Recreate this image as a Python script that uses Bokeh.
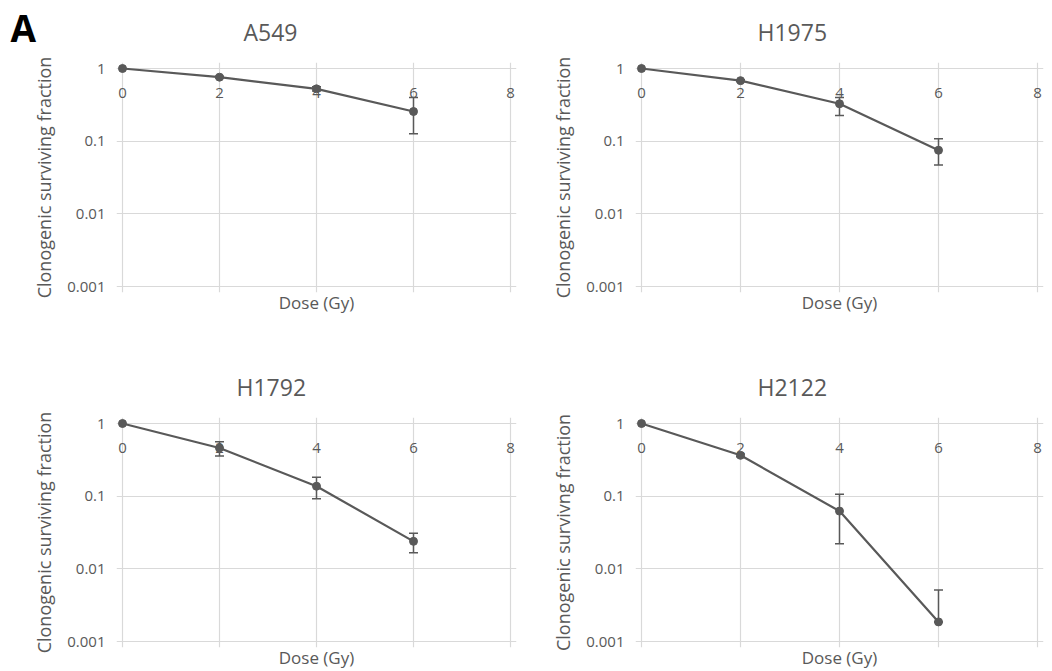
from bokeh.plotting import figure
from bokeh.models import Range1d, FixedTicker, Whisker, ColumnDataSource, TeeHead, Title
from bokeh.layouts import gridplot
from bokeh.embed import file_html
from bokeh.resources import INLINE
from bokeh.core.properties import value

# ---------------- data ----------------
doses = [0, 2, 4, 6]
x_ticks = [0, 2, 4, 6, 8]
y_ticks = [0.001, 0.01, 0.1, 1]
y_tick_labels = ["0.001", "0.01", "0.1", "1"]

panel_titles = ["A549", "H1975", "H1792", "H2122"]
y_axis_labels = ["Clonogenic surviving fraction", "Clonogenic surviving fraction",
                 "Clonogenic surviving fraction", "Clonogenic survivng fraction"]
x_axis_label = "Dose (Gy)"
panel_letter = "A"

a549_sf = [1.0, 0.76, 0.525, 0.256]
a549_upper = [1.0, 0.78, 0.56, 0.40]
a549_lower = [1.0, 0.74, 0.49, 0.126]

h1975_sf = [1.0, 0.68, 0.327, 0.075]
h1975_upper = [1.0, 0.70, 0.40, 0.108]
h1975_lower = [1.0, 0.66, 0.225, 0.047]

h1792_sf = [1.0, 0.46, 0.137, 0.0239]
h1792_upper = [1.0, 0.56, 0.182, 0.031]
h1792_lower = [1.0, 0.357, 0.092, 0.0166]

h2122_sf = [1.0, 0.365, 0.0623, 0.00186]
h2122_upper = [1.0, 0.38, 0.106, 0.0051]
h2122_lower = [1.0, 0.35, 0.0222, 0.00186]

series = [
    (a549_sf, a549_lower, a549_upper),
    (h1975_sf, h1975_lower, h1975_upper),
    (h1792_sf, h1792_lower, h1792_upper),
    (h2122_sf, h2122_lower, h2122_upper),
]

# ---------------- style ----------------
FONT = "Open Sans"
TEXT = "#595959"
GRID = "#d9d9d9"
SERIES = "#595959"
PAD = 6  # px between frame edge and the outer gridlines


def make_panel(i, width, height, left, top, plot_w, plot_h, title_offset):
    sf, lo, up = series[i]
    frame_w = plot_w + 2 * PAD
    frame_h = plot_h + 2 * PAD
    ppu = plot_w / (x_ticks[-1] - x_ticks[0])
    padx = PAD / ppu
    ppd = plot_h / 3.0
    pady = PAD / ppd
    p = figure(
        frame_width=frame_w, frame_height=frame_h,
        x_range=Range1d(x_ticks[0] - padx, x_ticks[-1] + padx),
        y_range=Range1d(y_ticks[0] * 10 ** (-pady), y_ticks[-1] * 10 ** pady),
        y_axis_type="log",
        output_backend="svg", toolbar_location=None,
        min_border_left=left, min_border_top=top,
        min_border_right=width - left - frame_w,
        min_border_bottom=height - top - frame_h,
        background_fill_color="white", border_fill_color="white",
    )
    p.outline_line_color = None

    p.title = Title(text=panel_titles[i], align="left", offset=title_offset,
                    vertical_align="middle",
                    text_font=FONT, text_font_size="23px", text_font_style="normal",
                    text_color=TEXT, standoff=28)

    # grids
    p.xgrid.ticker = FixedTicker(ticks=x_ticks)
    p.ygrid.ticker = FixedTicker(ticks=y_ticks)
    p.grid.grid_line_color = GRID
    p.grid.grid_line_width = 1.2

    # y axis
    ya = p.yaxis[0]
    ya.ticker = FixedTicker(ticks=y_ticks)
    ya.major_label_overrides = dict(zip(y_ticks, y_tick_labels))
    ya.axis_label = y_axis_labels[i]
    ya.axis_label_text_font = FONT
    ya.axis_label_text_font_size = "18px"
    ya.axis_label_text_font_style = "normal"
    ya.axis_label_text_color = TEXT
    ya.axis_label_standoff = 8
    ya.major_label_text_font = FONT
    ya.major_label_text_font_size = "15px"
    ya.major_label_text_color = TEXT
    ya.major_label_standoff = 5
    ya.axis_line_color = None
    ya.major_tick_line_color = None
    ya.minor_tick_line_color = None

    # x axis (below carries only the title)
    xa = p.xaxis[0]
    xa.ticker = FixedTicker(ticks=[])
    xa.axis_label = x_axis_label
    xa.axis_label_text_font = FONT
    xa.axis_label_text_font_size = "17px"
    xa.axis_label_text_font_style = "normal"
    xa.axis_label_text_color = TEXT
    xa.axis_label_standoff = -2
    xa.major_label_standoff = 0
    xa.axis_line_color = None
    xa.major_tick_line_color = None
    xa.minor_tick_line_color = None

    # x tick labels sit just under the top (y = 1) gridline, Excel style
    lab = ColumnDataSource(dict(x=x_ticks, y=[y_ticks[-1]] * len(x_ticks),
                                t=[str(v) for v in x_ticks]))
    p.text(x="x", y="y", text="t", source=lab, y_offset=24,
           text_font=value(FONT), text_font_size="15px", text_color=TEXT,
           text_align="center", text_baseline="middle")

    # error bars (only where there is a spread)
    idx = [k for k in range(len(doses)) if up[k] != lo[k]]
    es = ColumnDataSource(dict(x=[doses[k] for k in idx],
                               upper=[up[k] for k in idx],
                               lower=[lo[k] for k in idx]))
    w = Whisker(base="x", upper="upper", lower="lower", source=es, dimension="height",
                line_color=SERIES, line_width=1.5,
                upper_head=TeeHead(size=9, line_color=SERIES, line_width=1.5),
                lower_head=TeeHead(size=9, line_color=SERIES, line_width=1.5))
    p.add_layout(w)

    p.line(doses, sf, line_color=SERIES, line_width=2.2)
    p.scatter(doses, sf, size=8, fill_color=SERIES, line_color=SERIES)
    return p


p1 = make_panel(0, 520, 355, 116, 62, 388, 218, 127)
p2 = make_panel(1, 532, 355, 115, 62, 396, 218, 122)
p3 = make_panel(2, 520, 316, 116, 62, 388, 218, 120)
p4 = make_panel(3, 532, 316, 115, 62, 396, 218, 122)

# panel letter: an extra title on the first figure
p1.add_layout(Title(text=panel_letter, align="left", offset=-106, vertical_align="top",
                    text_font=FONT, text_font_size="37px", text_font_style="bold",
                    text_color="black", standoff=-122), "above")

grid = gridplot([[p1, p2], [p3, p4]], toolbar_location=None)

open("out.html", "w").write(file_html(grid, INLINE))
